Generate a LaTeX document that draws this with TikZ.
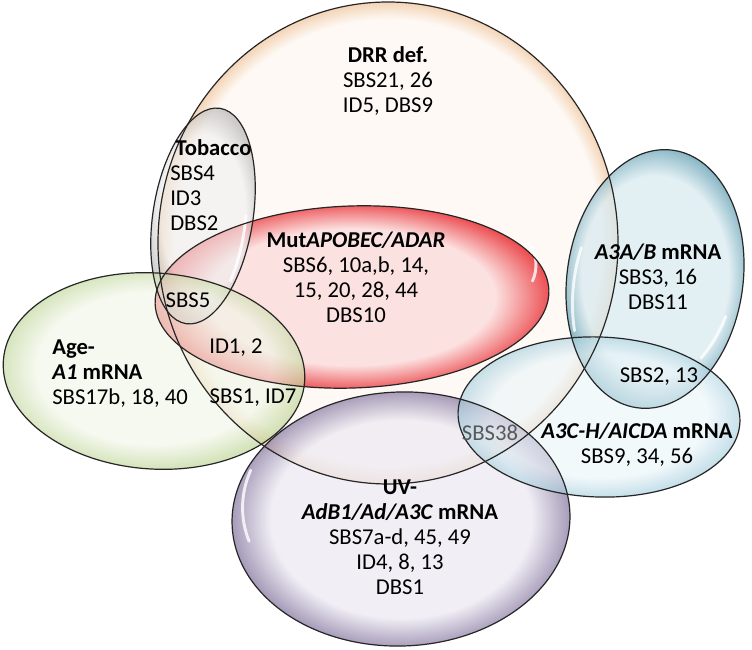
\documentclass[tikz,border=0pt]{standalone}
\usepackage{fontspec}
\setmainfont{Carlito}
\definecolor{drrin}{HTML}{FEF9F4}
\definecolor{drrout}{HTML}{F3D0AF}
\definecolor{redin}{HTML}{FCDCDC}
\definecolor{redout}{HTML}{E8242A}
\definecolor{grnin}{HTML}{F1F6E8}
\definecolor{grnout}{HTML}{BED596}
\definecolor{purin}{HTML}{ECE9F2}
\definecolor{purout}{HTML}{7F6F9A}
\definecolor{tealin}{HTML}{D7E9EF}
\definecolor{tealout}{HTML}{4F94AA}
\definecolor{lbin}{HTML}{EAF5F9}
\definecolor{lbout}{HTML}{A0CCDC}
\definecolor{gryin}{HTML}{EFEFEF}
\definecolor{gryout}{HTML}{ADADAD}
\pgfdeclareradialshading{rimdrr}{\pgfpoint{0bp}{0bp}}{color(0bp)=(drrin); color(23.2bp)=(drrin); color(25bp)=(drrout); color(50bp)=(drrout)}
\pgfdeclareradialshading{rimred}{\pgfpoint{0bp}{0bp}}{color(0bp)=(redin); color(18bp)=(redin); color(25bp)=(redout); color(50bp)=(redout)}
\pgfdeclareradialshading{rimgrn}{\pgfpoint{0bp}{0bp}}{color(0bp)=(grnin); color(19bp)=(grnin); color(25bp)=(grnout); color(50bp)=(grnout)}
\pgfdeclareradialshading{rimpur}{\pgfpoint{0bp}{0bp}}{color(0bp)=(purin); color(19bp)=(purin); color(25bp)=(purout); color(50bp)=(purout)}
\pgfdeclareradialshading{rimteal}{\pgfpoint{0bp}{0bp}}{color(0bp)=(tealin); color(19bp)=(tealin); color(25bp)=(tealout); color(50bp)=(tealout)}
\pgfdeclareradialshading{rimlb}{\pgfpoint{0bp}{0bp}}{color(0bp)=(lbin); color(19bp)=(lbin); color(25bp)=(lbout); color(50bp)=(lbout)}
\pgfdeclareradialshading{rimgry}{\pgfpoint{0bp}{0bp}}{color(0bp)=(gryin); color(18bp)=(gryin); color(25bp)=(gryout); color(50bp)=(gryout)}
\begin{document}
\begin{tikzpicture}[x=0.75pt,y=0.75pt,
  lbl/.style={inner sep=0pt, font=\fontsize{17}{18.75}\selectfont, align=center},
  outl/.style={draw=black!85, line width=0.9pt},
  gloss/.style={draw=white, line width=2.2pt, line cap=round, opacity=0.8}]
\useasboundingbox[fill=white] (0,0) rectangle (752,649);
% DRR def.
\shade[shading=rimdrr, fill opacity=0.9] (388,406) ellipse [x radius=230, y radius=241];
% MutAPOBEC/ADAR
\shade[shading=rimred, fill opacity=0.8, rotate around={2:(352,352)}] (352,352) ellipse [x radius=197, y radius=91];
% Tobacco
\shade[shading=rimgry, fill opacity=0.6, rotate around={-9:(203,433)}] (203,433) ellipse [x radius=50, y radius=109];
% Age
\shade[shading=rimgrn, fill opacity=0.65, rotate around={-4:(154,278)}] (154,278) ellipse [x radius=151, y radius=98];
% UV
\shade[shading=rimpur, fill opacity=0.72, rotate around={2:(401,130)}] (401,130) ellipse [x radius=169, y radius=127];
% A3A/B
\shade[shading=rimteal, fill opacity=0.72, rotate around={-8:(655,370)}] (655,370) ellipse [x radius=88, y radius=130];
% A3C-H
\shade[shading=rimlb, fill opacity=0.6, rotate around={-2:(599,232)}] (599,232) ellipse [x radius=141, y radius=80];
% gloss highlights
\draw[gloss, rotate around={2:(352,352)}] (352,352) ++(15:185) arc[start angle=15, end angle=-12, x radius=185, y radius=82];
\draw[gloss, rotate around={2:(401,130)}] (401,130) ++(160:158) arc[start angle=160, end angle=195, x radius=158, y radius=118];
\draw[gloss, rotate around={-8:(655,370)}] (655,370) ++(165:80) arc[start angle=165, end angle=205, x radius=80, y radius=122];
\draw[gloss, rotate around={-8:(655,370)}] (655,370) ++(-20:80) arc[start angle=-20, end angle=-45, x radius=80, y radius=122];
\draw[gloss, rotate around={-2:(599,232)}] (599,232) ++(25:132) arc[start angle=25, end angle=5, x radius=132, y radius=72];
\draw[gloss, rotate around={-9:(203,433)}] (203,433) ++(10:43) arc[start angle=10, end angle=-30, x radius=43, y radius=100];
% outlines
\draw[outl] (388,406) ellipse [x radius=230, y radius=241];
\draw[outl, rotate around={2:(352,352)}] (352,352) ellipse [x radius=197, y radius=91];
\draw[outl, rotate around={-9:(203,433)}] (203,433) ellipse [x radius=50, y radius=109];
\draw[outl, rotate around={-4:(154,278)}] (154,278) ellipse [x radius=151, y radius=98];
\draw[outl, rotate around={2:(401,130)}] (401,130) ellipse [x radius=169, y radius=127];
\draw[outl, rotate around={-8:(655,370)}] (655,370) ellipse [x radius=88, y radius=130];
\draw[outl, rotate around={-2:(599,232)}] (599,232) ellipse [x radius=141, y radius=80];
% labels
\node[lbl] (drr) at (388,568) {\textbf{DRR def.}\\SBS21, 26\\ID5, DBS9};
\node[lbl, align=left, anchor=west] (tob) at (170,463.5) {\hspace*{4pt}\textbf{Tobacco}\\SBS4\\ID3\\DBS2};
\node[lbl] (sbs5) at (188,349) {SBS5};
\node[lbl] (mut) at (356,371.5) {\textbf{Mut\textit{APOBEC/ADAR}}\\SBS6, 10a,b, 14,\\15, 20, 28, 44\\DBS10};
\node[lbl] (id12) at (236,301) {ID1, 2};
\node[lbl] (sbs1) at (253,251) {SBS1, ID7};
\node[lbl, align=left, anchor=west] (age) at (52,275) {\textbf{Age-}\\\textbf{\textit{A1} mRNA}\\SBS17b, 18, 40};
\node[lbl] (uv) at (400,112) {\textbf{UV-}\\\textbf{\textit{AdB1/Ad/A3C} mRNA}\\SBS7a-d, 45, 49\\ID4, 8, 13\\DBS1};
\node[lbl] (a3ab) at (658,372) {\textbf{\textit{A3A/B} mRNA}\\SBS3, 16\\DBS11};
\node[lbl] (sbs2) at (659,272) {SBS2, 13};
\node[lbl] (a3c) at (637,204.5) {\textbf{\textit{A3C-H/AICDA} mRNA}\\SBS9, 34, 56};
\node[lbl, text=black!65] (sbs38) at (490,216) {SBS38};
\end{tikzpicture}
\end{document}
